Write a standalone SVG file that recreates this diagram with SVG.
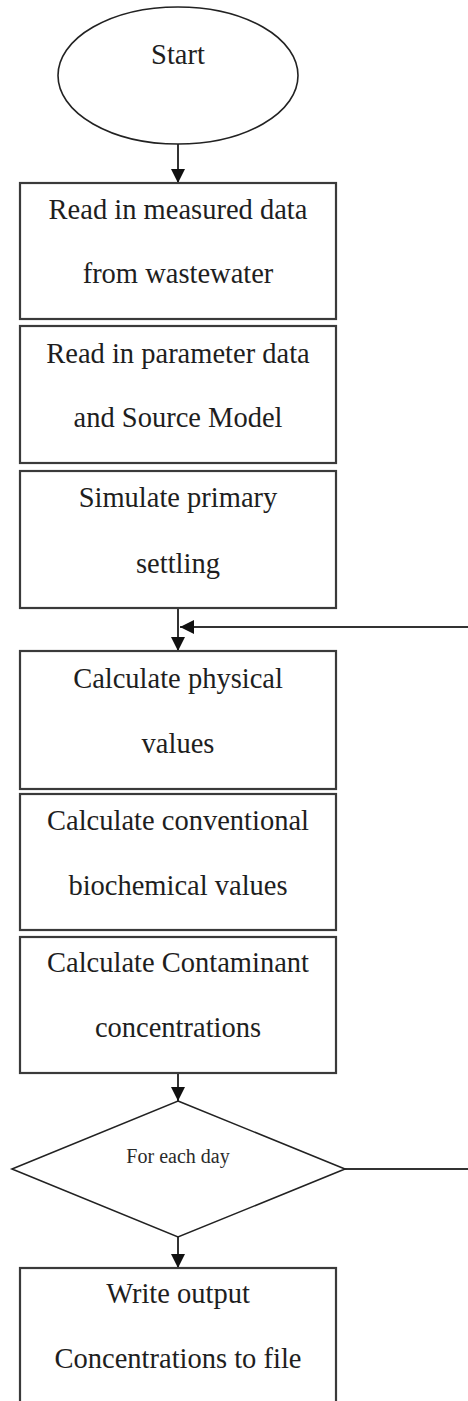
<svg xmlns="http://www.w3.org/2000/svg" width="468" height="1401" viewBox="0 0 468 1401">
<style>
.box{fill:#fff;stroke:#3a3a3a;stroke-width:2.2}
.sh{fill:none;stroke:#222;stroke-width:1.6}
.t{font-family:"Liberation Serif","Times New Roman",serif;font-size:28.5px;fill:#1e1e1e;text-anchor:middle}
.ts{font-family:"Liberation Serif","Times New Roman",serif;font-size:20px;fill:#2a2a2a;text-anchor:middle}
.c{fill:none;stroke:#333;stroke-width:2}
</style>
<defs>
<marker id="ah" viewBox="0 0 14 14" refX="14" refY="7" markerWidth="14" markerHeight="14" markerUnits="userSpaceOnUse" orient="auto">
<path d="M0,0 L14,7 L0,14 Z" fill="#111"/>
</marker>
</defs>
<rect width="468" height="1401" fill="#fff"/>
<g id="connectors">
<line class="c" x1="178" y1="144" x2="178" y2="183" marker-end="url(#ah)"/>
<line class="c" x1="178" y1="608" x2="178" y2="651" marker-end="url(#ah)"/>
<line class="c" x1="178" y1="1073" x2="178" y2="1101" marker-end="url(#ah)"/>
<line class="c" x1="178" y1="1237" x2="178" y2="1268" marker-end="url(#ah)"/>
<path class="c" d="M345,1169 H480 V627 H180" marker-end="url(#ah)"/>
</g>
<g id="start">
<ellipse class="sh" cx="178" cy="75.5" rx="120" ry="68.5"/>
<text class="t" x="178" y="64">Start</text>
</g>
<g id="read-measured">
<rect class="box" x="20" y="183" width="316" height="136"/>
<text class="t" x="178" y="219">Read in measured data</text>
<text class="t" x="178" y="283">from wastewater</text>
</g>
<g id="read-parameter">
<rect class="box" x="20" y="326" width="316" height="137"/>
<text class="t" x="178" y="363">Read in parameter data</text>
<text class="t" x="178" y="427">and Source Model</text>
</g>
<g id="simulate">
<rect class="box" x="20" y="471" width="316" height="137"/>
<text class="t" x="178" y="507">Simulate primary</text>
<text class="t" x="178" y="573">settling</text>
</g>
<g id="physical">
<rect class="box" x="20" y="651" width="316" height="138"/>
<text class="t" x="178" y="688">Calculate physical</text>
<text class="t" x="178" y="753">values</text>
</g>
<g id="conventional">
<rect class="box" x="20" y="794" width="316" height="136"/>
<text class="t" x="178" y="830">Calculate conventional</text>
<text class="t" x="178" y="895">biochemical values</text>
</g>
<g id="contaminant">
<rect class="box" x="20" y="937" width="316" height="136"/>
<text class="t" x="178" y="972">Calculate Contaminant</text>
<text class="t" x="178" y="1037">concentrations</text>
</g>
<g id="for-each-day">
<polygon class="sh" points="178,1101 345,1169 178,1237 12,1169"/>
<text class="ts" x="178" y="1163">For each day</text>
</g>
<g id="write-output">
<rect class="box" x="20" y="1268" width="316" height="150"/>
<text class="t" x="178" y="1303">Write output</text>
<text class="t" x="178" y="1368">Concentrations to file</text>
</g>
</svg>
